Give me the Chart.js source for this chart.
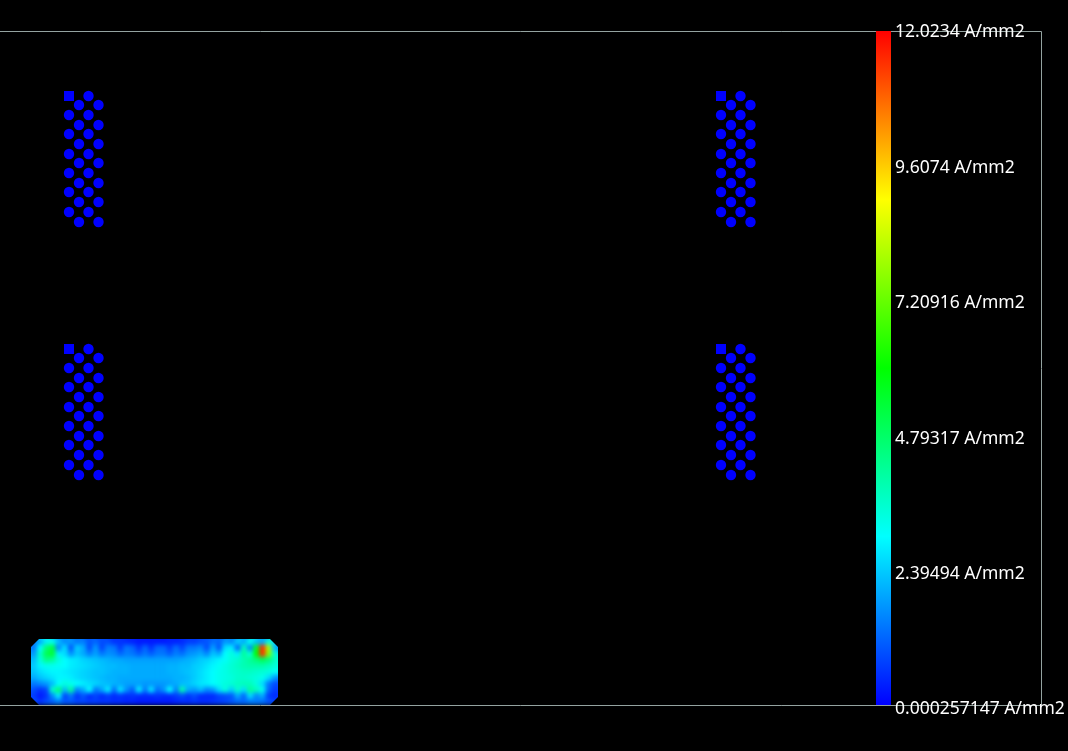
<!DOCTYPE html>
<html><head><meta charset="utf-8">
<style>html,body{margin:0;padding:0;background:#000;overflow:hidden}canvas{display:block}</style>
<script src="https://cdn.jsdelivr.net/npm/chart.js@4"></script>
</head><body><canvas id="c" width="1068" height="751"></canvas>
<script>
// colour scale (A/mm2)
const colorTicks = [0.000257147, 2.39494, 4.79317, 7.20916, 9.6074, 12.0234];
const colorLabels = ["0.000257147 A/mm2","2.39494 A/mm2","4.79317 A/mm2","7.20916 A/mm2","9.6074 A/mm2","12.0234 A/mm2"];
const colorStops = ["#0000ff","#00ffff","#00ff00","#ffff00","#ff0000"];
// pad geometry (model units, origin at the lower left of the frame)
const holeColsLeftOdd = [69, 88.5];
const holeColsLeftEven = [79, 98.5];
const holeColsRightOdd = [721, 740.5];
const holeColsRightEven = [731, 750.5];
const upperRows = [609,600,590,580,571,561,551,542,532,522,513,503,493,483];
const lowerRows = [356,347,337,327,318,308,298,289,279,269,260,250,240,230];
const squareX = [69, 721];
const squareY = [609, 356];
const frameRight = 1041;
// current density on the plate
const plateX = [34,40.2,46.4,52.5,58.7,64.9,71,77.2,83.4,89.6,95.8,101.9,108.1,114.3,120.5,126.6,132.8,139,145.2,151.3,157.5,163.7,169.9,176,182.2,188.4,194.6,200.7,206.9,213.1,219.3,225.4,231.6,237.8,244,250.1,256.3,262.5,268.7,274.8,281];
const plateY = [63,57,51,45,39,33,27,21,15,9,3];
const plateRow0 = [1.5,2.0,2.8,3.2,2.2,1.6,1.8,1.4,1.5,1.0,1.2,0.9,0.9,0.6,0.6,0.5,0.4,0.3,0.3,0.3,0.3,0.3,0.4,0.4,0.5,0.7,0.7,0.9,1.0,1.3,1.2,1.8,1.6,2.4,2.0,3.2,2.2,2.0,3.4,2.6,2.0];
const plateRow1 = [1.4,3.0,4.6,5.2,1.6,2.6,1.0,2.4,2.0,0.9,1.8,0.8,1.5,1.4,0.7,1.4,1.2,0.6,1.2,0.6,1.2,1.2,0.7,1.3,0.8,1.4,1.4,1.6,0.9,1.9,1.0,2.6,2.8,1.2,3.8,1.6,5.6,11.5,8.0,2.2,1.4];
const plateRow2 = [1.8,3.6,5.0,5.4,2.8,2.6,1.7,2.3,2.0,1.5,1.9,1.4,1.7,1.6,1.2,1.5,1.4,1.1,1.4,1.1,1.4,1.4,1.1,1.5,1.3,1.7,1.8,2.0,1.6,2.3,2.0,3.0,3.4,2.8,4.2,3.4,6.0,11.5,7.6,3.6,2.6];
const plateRow3 = [2.2,3.4,4.4,4.2,3.4,3.0,2.8,2.7,2.5,2.4,2.3,2.2,2.1,2.0,2.0,1.9,1.9,1.9,1.9,1.9,1.9,1.9,1.9,1.9,2.0,2.1,2.2,2.4,2.5,2.7,2.9,3.1,3.4,3.6,3.9,4.2,4.6,5.0,4.6,3.8,3.2];
const plateRow4 = [2.4,2.9,3.2,3.2,3.1,3.0,2.8,2.7,2.6,2.5,2.4,2.3,2.2,2.2,2.1,2.1,2.0,2.0,2.0,2.0,2.0,2.0,2.1,2.1,2.2,2.2,2.4,2.5,2.7,2.9,3.1,3.3,3.5,3.7,3.9,4.0,4.0,4.0,3.8,3.5,3.2];
const plateRow5 = [2.3,2.6,2.8,2.9,2.9,2.8,2.7,2.6,2.5,2.4,2.3,2.3,2.2,2.1,2.1,2.1,2.0,2.0,2.0,2.0,2.0,2.0,2.1,2.1,2.2,2.3,2.4,2.6,2.8,3.0,3.2,3.3,3.5,3.6,3.7,3.7,3.6,3.5,3.4,3.1,2.9];
const plateRow6 = [2.0,2.3,2.5,2.7,2.9,2.9,2.8,2.6,2.5,2.4,2.3,2.2,2.1,2.1,2.0,2.0,2.0,2.0,2.0,2.0,2.0,2.0,2.0,2.1,2.1,2.2,2.4,2.6,2.8,3.0,3.2,3.3,3.4,3.6,3.6,3.5,3.4,3.2,2.6,1.8,1.6];
const plateRow7 = [1.4,1.6,1.8,2.2,3.0,3.4,3.2,3.0,2.8,2.6,2.5,2.3,2.2,2.1,2.0,1.9,1.9,1.9,1.8,1.8,1.8,1.8,1.9,2.0,2.2,2.3,2.5,2.7,2.8,3.0,3.2,3.4,3.5,3.7,3.8,3.8,3.4,2.6,1.4,0.9,0.9];
const plateRow8 = [0.9,0.6,0.8,3.6,4.6,2.2,4.2,1.6,2.0,3.0,1.4,1.9,2.8,1.3,2.7,1.7,1.1,2.8,1.4,2.7,1.3,1.7,3.0,1.5,4.0,2.0,1.8,2.2,1.6,1.8,2.6,3.4,2.4,3.6,2.6,4.2,3.8,3.2,1.2,0.7,0.8];
const plateRow9 = [0.7,0.3,0.6,1.6,2.8,0.8,1.4,0.6,1.0,0.5,0.8,0.5,0.7,0.5,0.6,0.5,0.6,0.5,0.5,0.5,0.6,0.5,0.5,0.7,0.9,0.6,0.9,0.5,0.5,0.5,0.8,0.9,1.0,2.0,1.2,2.6,1.6,2.0,0.7,0.5,0.6];
const plateRow10 = [0.9,0.6,0.9,1.1,1.4,1.0,1.0,0.8,0.8,0.7,0.7,0.6,0.6,0.5,0.5,0.4,0.4,0.3,0.3,0.3,0.3,0.3,0.3,0.4,0.5,0.5,0.6,0.5,0.5,0.6,0.7,0.8,1.0,1.2,1.2,1.4,1.4,1.3,1.0,0.8,0.8];
const plateRows = [plateRow0,plateRow1,plateRow2,plateRow3,plateRow4,plateRow5,plateRow6,plateRow7,plateRow8,plateRow9,plateRow10];
const plateOutlineX = [39,270,278,278,270,39,31,31];
const plateOutlineY = [66,66,58,8,0,0,8,58];

const vMin = colorTicks[0], vMax = colorTicks[colorTicks.length-1];
function colorOf(v){
  const t = Math.max(0,Math.min(1,(v-vMin)/(vMax-vMin)))*4;
  const i = Math.min(3,Math.floor(t)), f = t-i;
  const p = h=>[1,3,5].map(k=>parseInt(h.substr(k,2),16));
  const a = p(colorStops[i]), b = p(colorStops[i+1]);
  return `rgb(${a.map((c,k)=>Math.round(c+(b[k]-c)*f)).join(',')})`;
}
function grid(cols, rows, skip){
  const out=[];
  rows.forEach((y,r)=>cols[r%2].forEach((x,c)=>{ if(!(skip&&r===0&&c===0)) out.push({x,y}); }));
  return out;
}
const holePoints = [
  ...grid([holeColsLeftOdd,holeColsLeftEven],upperRows,true),
  ...grid([holeColsRightOdd,holeColsRightEven],upperRows,true),
  ...grid([holeColsLeftOdd,holeColsLeftEven],lowerRows,true),
  ...grid([holeColsRightOdd,holeColsRightEven],lowerRows,true)
];
const squarePoints = [];
squareX.forEach(x=>squareY.forEach(y=>squarePoints.push({x,y})));
const platePoints=[], plateColors=[];
plateRows.forEach((row,r)=>row.forEach((v,c)=>{
  platePoints.push({x:plateX[c],y:plateY[r]});
  plateColors.push(colorOf(v));
}));

const framePlugin = {
  id:'frame',
  beforeDraw(chart){
    const {ctx,chartArea:a,scales:s}=chart;
    ctx.save();
    ctx.strokeStyle='#94a3a0';ctx.lineWidth=1;
    const R=Math.round(s.x.getPixelForValue(frameRight))+0.5,T=Math.round(a.top)+0.5,B=Math.round(a.bottom)+0.5;
    ctx.beginPath();ctx.moveTo(0,T);ctx.lineTo(R,T);ctx.lineTo(R,B);ctx.lineTo(0,B);ctx.stroke();
    ctx.restore();
  },
  afterDatasetDraw(chart,args){
    if(args.index!==0) return;
    // soften the plate's cells into a continuous field, inside its outline
    const {ctx,scales:s,canvas}=chart;
    const bx=Math.round(s.x.getPixelForValue(24)), bw=Math.round(s.x.getPixelForValue(290))-bx;
    const by=Math.round(s.y.getPixelForValue(70)), bh=Math.round(s.y.getPixelForValue(0))-by;
    const off=document.createElement('canvas');off.width=bw;off.height=bh;
    const o=off.getContext('2d');
    o.drawImage(canvas,bx,by,bw,bh,-6,-6,bw+12,bh+12);
    o.drawImage(canvas,bx,by,bw,bh,0,0,bw,bh);
    ctx.save();
    ctx.clearRect(bx,by,bw,bh);
    ctx.beginPath();
    plateOutlineX.forEach((x,i)=>ctx.lineTo(s.x.getPixelForValue(x),s.y.getPixelForValue(plateOutlineY[i])));
    ctx.closePath();ctx.clip();
    ctx.filter='blur(2px)';
    ctx.drawImage(off,bx,by);
    ctx.restore();
  }
};

new Chart(document.getElementById('c'),{
  type:'scatter',
  plugins:[framePlugin],
  data:{datasets:[
    {label:'Plate',data:platePoints,pointStyle:'rect',pointRadius:4.6,pointBorderWidth:0,backgroundColor:plateColors,xAxisID:'x',yAxisID:'y'},
    {label:'Vias',data:holePoints,pointStyle:'circle',pointRadius:5.2,pointBorderWidth:0,backgroundColor:'#0000ff',xAxisID:'x',yAxisID:'y'},
    {label:'Pins',data:squarePoints,pointStyle:'rect',pointRadius:7.07,pointBorderWidth:0,backgroundColor:'#0000ff',xAxisID:'x',yAxisID:'y'},
    {label:'Scale',data:[{x:883.5,y:vMin},{x:883.5,y:vMax}],showLine:true,pointRadius:0,borderWidth:15,borderCapStyle:'butt',xAxisID:'x',yAxisID:'yBar',
      borderColor(ctx){
        const ch=ctx.chart; if(!ch.chartArea) return colorStops[0];
        const g=ch.ctx.createLinearGradient(0,ch.chartArea.bottom,0,ch.chartArea.top);
        colorStops.forEach((c,i)=>g.addColorStop(i/4,c));
        return g;
      }}
  ]},
  options:{
    responsive:false,animation:false,
    layout:{autoPadding:false,padding:{left:0,top:31,right:0,bottom:46}},
    plugins:{legend:{display:false},tooltip:{enabled:false}},
    scales:{
      x:{type:'linear',min:0,max:891,display:false},
      y:{type:'linear',min:0,max:674,display:false},
      yBar:{type:'linear',min:vMin,max:vMax,display:false},
      yColor:{type:'linear',position:'right',min:0.0718,max:12.0415,
        grid:{display:false,drawTicks:false},border:{display:false},
        afterBuildTicks(scale){scale.ticks=colorTicks.map(value=>({value}));},
        afterFit(scale){scale.width=177;},
        ticks:{autoSkip:false,maxRotation:0,padding:4,color:'#ffffff',font:{family:'"Noto Sans"',size:17.5},
          callback(v,i){return colorLabels[i];}}
      }
    }
  }
});
</script></body></html>
